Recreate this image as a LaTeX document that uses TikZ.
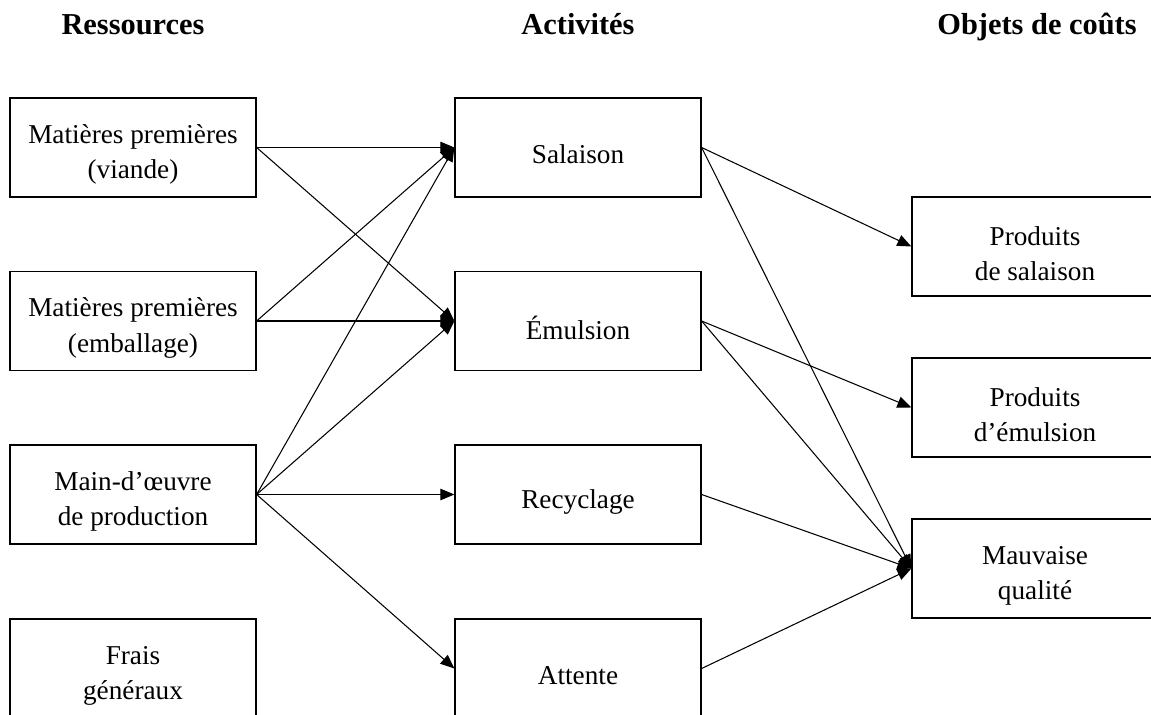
\documentclass[tikz,border=0pt]{standalone}
\usepackage{fontspec}
\setmainfont{Liberation Serif}
\usetikzlibrary{arrows.meta}

\begin{document}
\begin{tikzpicture}[x=0.02cm, y=-0.02cm, >={Triangle[length=0.28cm, width=0.23cm]}]
	\tikzset{
	boxtext/.style={
		align=center,
		yshift=-0.14cm,
		font=\fontsize{15.5}{20}\selectfont
	},
	boxnode/.style={
		draw,
		line width=0.75pt,
		rectangle,
		minimum width=4.92cm,
		minimum height=1.98cm,
		label={[boxtext]center:#1}
	}
	}
	\tikzstyle{headnode}=[
	anchor=base,
	font=\fontsize{17.3}{20}\selectfont\bfseries
	]
	\tikzstyle{link}=[->, line width=0.6pt]
	\useasboundingbox (0,0) rectangle (1151,715);
	% headings
	\node[headnode] (hres) at (133,35) {Ressources};
	\node[headnode] (hact) at (578,35) {Activités};
	\node[headnode] (hobj) at (1037,35) {Objets de coûts};
	% resources
	\node[boxnode={Matières premières\\(viande)}] (R1) at (133,147.5) {};
	\node[boxnode={Matières premières\\(emballage)}] (R2) at (133,321) {};
	\node[boxnode={Main-d’œuvre\\de production}] (R3) at (133,494.5) {};
	\node[boxnode={Frais\\généraux}] (R4) at (133,668.5) {};
	% activities
	\node[boxnode={Salaison}] (A1) at (578,147.5) {};
	\node[boxnode={Émulsion}] (A2) at (578,321) {};
	\node[boxnode={Recyclage}] (A3) at (578,494.5) {};
	\node[boxnode={Attente}] (A4) at (578,668.5) {};
	% cost objects
	\node[boxnode={Produits\\de salaison}] (C1) at (1035,246.5) {};
	\node[boxnode={Produits\\d’émulsion}] (C2) at (1035,407.5) {};
	\node[boxnode={Mauvaise\\qualité}] (C3) at (1035,568.5) {};
	% resources to activities
	\draw[link] (R1.east) -- (A1.west);
	\draw[link] (R1.east) -- (A2.west);
	\draw[link] (R2.east) -- (A1.west);
	\draw[link] (R2.east) -- (A2.west);
	\draw[link] (R3.east) -- (A1.west);
	\draw[link] (R3.east) -- (A2.west);
	\draw[link] (R3.east) -- (A3.west);
	\draw[link] (R3.east) -- (A4.west);
	% activities to cost objects
	\draw[link] (A1.east) -- (C1.west);
	\draw[link] (A1.east) -- (C3.west);
	\draw[link] (A2.east) -- (C2.west);
	\draw[link] (A2.east) -- (C3.west);
	\draw[link] (A3.east) -- (C3.west);
	\draw[link] (A4.east) -- (C3.west);
\end{tikzpicture}
\end{document}
